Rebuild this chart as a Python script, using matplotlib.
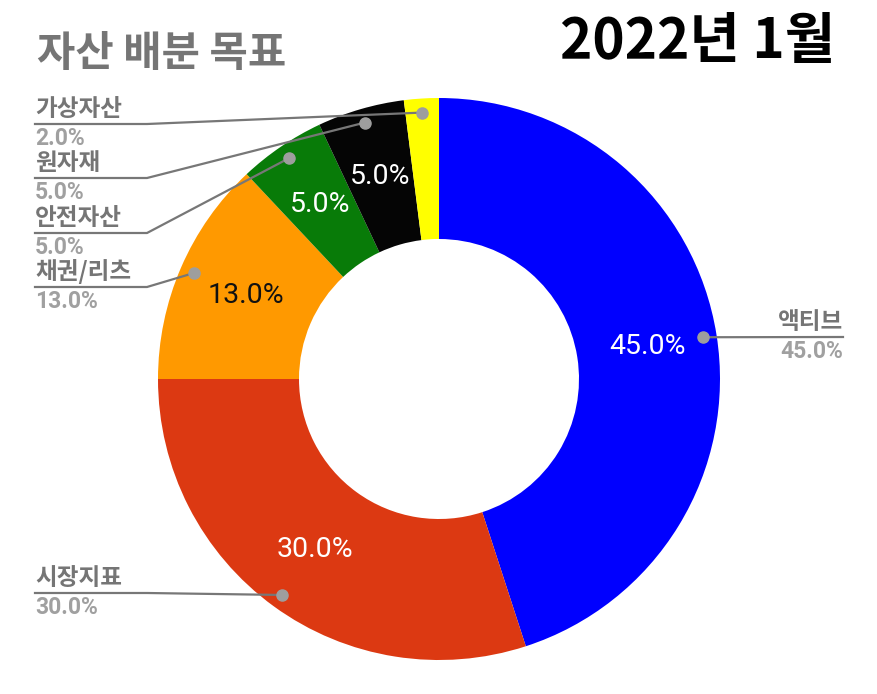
import matplotlib
matplotlib.use("Agg")
import matplotlib.pyplot as plt
import numpy as np

# ---- data ----
categories = ["액티브", "시장지표", "채권/리츠", "안전자산", "원자재", "가상자산"]
values = [45.0, 30.0, 13.0, 5.0, 5.0, 2.0]
colors = ["#0000ff", "#dc3912", "#ff9900", "#087b08", "#050505", "#ffff00"]
pct_text_colors = ["white", "white", "#111111", "white", "white", "white"]
title_left = "자산 배분 목표"
title_right = "2022년 1월"

# ---- layout ----
W, H = 877, 694
cx, cy = 439, H - 379
R = 281
ring = 141
label_x = 35
elbow_x = 147
right_x = 843
label_line_y = [H - 337, H - 593, H - 287, H - 233, H - 178, H - 124]
label_side = ["right", "left", "left", "left", "left", "left"]

KR = "Noto Sans CJK KR"
LAT = ["Roboto", KR]

fig = plt.figure(figsize=(W / 100, H / 100), dpi=100)
ax = fig.add_axes([0, 0, 1, 1])

def fmt(p):
    return "" if p < 3 else f"{p:.1f}%"

wedges, _, autotexts = ax.pie(
    values, colors=colors, startangle=90, counterclock=False,
    center=(cx, cy), radius=R, autopct=fmt, pctdistance=0.75,
    wedgeprops=dict(width=ring, linewidth=0),
    textprops=dict(fontsize=20.5, family=LAT))
for t, c in zip(autotexts, pct_text_colors):
    t.set_color(c)

ax.set_xlim(0, W)
ax.set_ylim(0, H)
ax.set_aspect("equal")
ax.axis("off")

line_col = "#777777"
dot_col = "#9e9e9e"
name_col = "#757575"
pct_col = "#a0a0a0"

for w, name, v, ly, side in zip(wedges, categories, values, label_line_y, label_side):
    mid = np.deg2rad((w.theta1 + w.theta2) / 2)
    dx = cx + 0.95 * R * np.cos(mid)
    dy = cy + 0.95 * R * np.sin(mid)
    ax.plot([dx], [dy], "o", color=dot_col, markersize=8, zorder=5)
    if side == "right":
        ax.plot([dx, right_x], [dy, ly], color=line_col, lw=1.6, zorder=4)
        tx, ha = right_x, "right"
    else:
        ax.plot([label_x, elbow_x, dx], [ly, ly, dy], color=line_col, lw=1.6, zorder=4)
        tx, ha = label_x, "left"
    ax.text(tx, ly + 3, name, ha=ha, va="bottom", fontsize=17, fontweight="bold",
            color=name_col, family=KR)
    ax.text(tx, ly - 3, f"{v:.1f}%", ha=ha, va="top", fontsize=16.5, fontweight="bold",
            color=pct_col, family=LAT)

ax.text(37, H - 54, title_left, ha="left", va="center", fontsize=30, fontweight="bold",
        color="#757575", family=KR)
ax.text(560, H - 41, title_right, ha="left", va="center", fontsize=39.5, fontweight="bold",
        color="black", family=KR)

fig.savefig("out.png", dpi=100)
